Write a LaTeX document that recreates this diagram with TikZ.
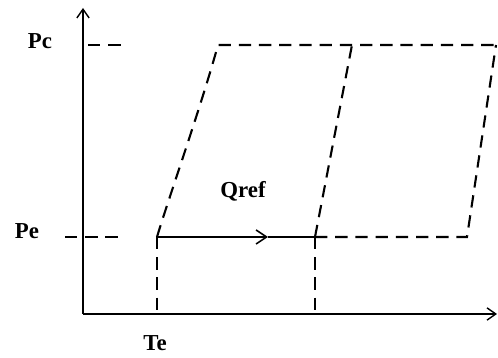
\documentclass[tikz,border=0pt]{standalone}
\usepackage{fontspec}
\setmainfont{Liberation Serif}
\usetikzlibrary{arrows.meta, positioning, calc}
\tikzset{
  pv axis/.style={-{Straight Barb[length=5pt,width=7pt]}, line width=0.8pt, draw=black},
  pv dash/.style={line width=1.2pt, dash pattern=on 7pt off 4.5pt, draw=black},
  pv flow/.style={line width=0.9pt, draw=black},
  pv label/.style={font=\fontsize{13}{15}\selectfont\bfseries, inner sep=1pt}
}

\begin{document}
\begin{tikzpicture}[x=0.02cm, y=-0.02cm]
  \useasboundingbox (0,0) rectangle (498,358);
  % axes
  \coordinate (origin) at (83,314);
  \coordinate (ytop) at (83,8);
  \coordinate (xend) at (497,314);
  \draw [pv axis] (origin) -- (ytop);
  \draw [pv axis] (origin) -- (xend);

  % corner points of the cycle
  \coordinate (te) at (157,237);
  \coordinate (mid) at (315,237);
  \coordinate (br) at (467,237);
  \coordinate (tl) at (218,45);
  \coordinate (tm) at (352,45);
  \coordinate (tr) at (496,45);
  \coordinate (tebase) at (157,314);
  \coordinate (midbase) at (315,314);
  \coordinate (pcaxis) at (88,45);
  \coordinate (pcend) at (123,45);
  \coordinate (peaxis) at (65,237);
  \coordinate (peend) at (120,237);
  \coordinate (flowhead) at (268,237);

  % labels
  \node (pc) [pv label] at (40,41) {Pc};
  \node (pe) [pv label] at (27,231) {Pe};
  \node (tel) [pv label] at (155,343) {Te};
  \node (qref) [pv label] at (243,191) {Qref};

  % dashed guides
  \draw [pv dash] (pcaxis) -- (pcend);
  \draw [pv dash] (peaxis) -- (peend);
  \draw [pv dash] (te) -- (tebase);
  \draw [pv dash] (mid) -- (midbase);

  % dashed envelope
  \draw [pv dash] (te) .. controls (168,200) and (200,110) .. (tl) -- (tr);
  \draw [pv dash] (mid) -- (tm);
  \draw [pv dash] (mid) -- (br) -- (tr);

  % reference flow
  \draw [pv flow, -{Straight Barb[length=6pt,width=8pt]}] (te) -- (flowhead);
  \draw [pv flow] (flowhead) -- (mid);
\end{tikzpicture}
\end{document}
